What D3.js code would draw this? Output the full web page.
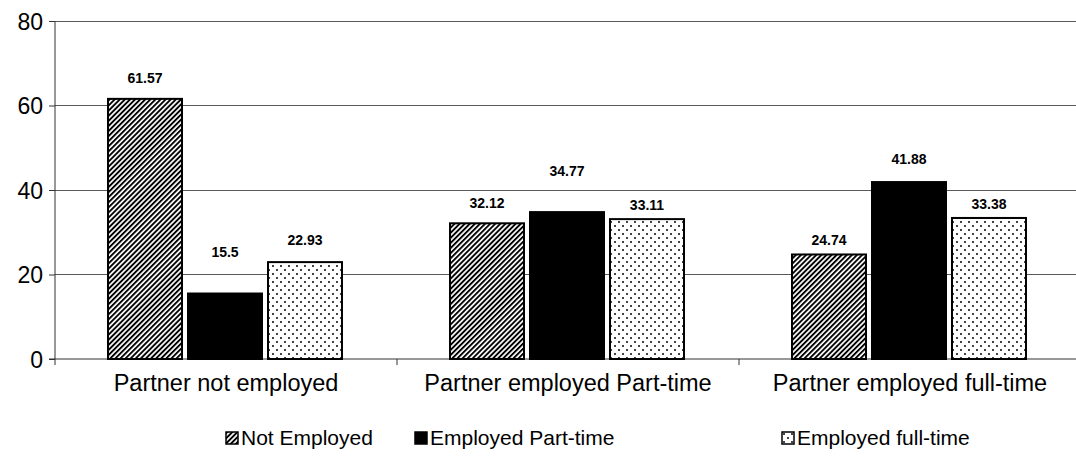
<!DOCTYPE html>
<html>
<head>
<meta charset="utf-8">
<script src="https://cdn.jsdelivr.net/npm/d3@7"></script>
<style>
  body { margin: 0; background: #fff; }
  svg { display: block; font-family: "Liberation Sans", Arial, sans-serif; }
</style>
</head>
<body>
<svg id="chart" width="1076" height="472"></svg>
<script>
const categories = ["Partner not employed", "Partner employed Part-time", "Partner employed full-time"];
const series = ["Not Employed", "Employed Part-time", "Employed full-time"];
const notEmployed = [61.57, 32.12, 24.74];
const employedPartTime = [15.5, 34.77, 41.88];
const employedFullTime = [22.93, 33.11, 33.38];
const yTicks = [0, 20, 40, 60, 80];

// pixel gap between bar top and label centre (Excel placed them unevenly)
const labelGap = [
  [21, 41, 22],
  [20, 41, 14],
  [14, 23, 14]
];

const values = [notEmployed, employedPartTime, employedFullTime];
const rows = categories.map((c, i) => ({
  category: c,
  bars: series.map((s, j) => ({ series: s, value: values[j][i], gap: labelGap[i][j] }))
}));

const svg = d3.select("#chart");
const plotLeft = 55, plotTop = 21, plotBottom = 359;

const x0 = d3.scaleBand().domain(categories).range([plotLeft, plotLeft + 342 * 3]);
const x1 = d3.scaleBand().domain(series).range([53, 287]).paddingInner(0.075);
const y = d3.scaleLinear().domain([0, 80]).range([plotBottom, plotTop]);

const defs = svg.append("defs");
const stripes = defs.append("pattern")
  .attr("id", "stripes")
  .attr("patternUnits", "userSpaceOnUse")
  .attr("width", 3.6).attr("height", 10)
  .attr("patternTransform", "rotate(45)");
stripes.append("rect").attr("width", 3.6).attr("height", 10).attr("fill", "#fff");
stripes.append("rect").attr("width", 1.9).attr("height", 10).attr("fill", "#000");

const dots = defs.append("pattern")
  .attr("id", "dots")
  .attr("patternUnits", "userSpaceOnUse")
  .attr("width", 8).attr("height", 8);
dots.append("rect").attr("width", 8).attr("height", 8).attr("fill", "#fff");
dots.append("rect").attr("x", 1).attr("y", 1).attr("width", 2).attr("height", 2).attr("fill", "#444");
dots.append("rect").attr("x", 5).attr("y", 5).attr("width", 2).attr("height", 2).attr("fill", "#444");

const fills = d3.scaleOrdinal().domain(series).range(["url(#stripes)", "#000", "url(#dots)"]);

// gridlines
svg.append("g")
  .selectAll("line")
  .data(yTicks.filter(d => d > 0))
  .join("line")
  .attr("x1", plotLeft).attr("x2", 1076)
  .attr("y1", d => y(d)).attr("y2", d => y(d))
  .attr("stroke", "#5a5a5a")
  .attr("stroke-width", 1)
  .attr("shape-rendering", "crispEdges");

// y axis
const yAxis = svg.append("g")
  .attr("transform", `translate(${plotLeft},0)`)
  .call(d3.axisLeft(y).tickValues(yTicks).tickSize(6).tickPadding(6));
yAxis.select(".domain").attr("d", `M0,${plotTop}V${plotBottom + 6}`).attr("stroke", "#333");
yAxis.selectAll(".tick line").attr("stroke", "#333");
yAxis.selectAll("text").attr("font-size", 23).attr("fill", "#000").attr("dy", "0.35em");

// x axis
const xAxis = svg.append("g")
  .attr("transform", `translate(0,${plotBottom})`);
xAxis.append("line")
  .attr("x1", plotLeft - 6).attr("x2", 1076)
  .attr("stroke", "#333");
xAxis.selectAll(".sep")
  .data(categories.slice(1))
  .join("line")
  .attr("class", "sep")
  .attr("x1", d => x0(d)).attr("x2", d => x0(d))
  .attr("y1", 0).attr("y2", 6)
  .attr("stroke", "#333");
xAxis.selectAll(".cat")
  .data(categories)
  .join("text")
  .attr("class", "cat")
  .attr("x", d => x0(d) + x0.bandwidth() / 2)
  .attr("y", 32)
  .attr("text-anchor", "middle")
  .attr("font-size", 23.5)
  .text(d => d);

// bars
const groups = svg.append("g")
  .selectAll("g")
  .data(rows)
  .join("g")
  .attr("transform", d => `translate(${x0(d.category)},0)`);

groups.selectAll("rect")
  .data(d => d.bars)
  .join("rect")
  .attr("x", d => x1(d.series))
  .attr("y", d => y(d.value))
  .attr("width", x1.bandwidth())
  .attr("height", d => y(0) - y(d.value))
  .attr("fill", d => fills(d.series))
  .attr("stroke", "#000")
  .attr("stroke-width", 2);

groups.selectAll("text")
  .data(d => d.bars)
  .join("text")
  .attr("x", d => x1(d.series) + x1.bandwidth() / 2)
  .attr("y", d => y(d.value) - d.gap)
  .attr("dy", "0.35em")
  .attr("text-anchor", "middle")
  .attr("font-size", 14)
  .attr("font-weight", "bold")
  .text(d => d.value);

// legend
const legendX = [226, 415, 782];
const legend = svg.append("g")
  .selectAll("g")
  .data(series)
  .join("g")
  .attr("transform", (d, i) => `translate(${legendX[i]},432)`);
legend.append("rect")
  .attr("width", 12).attr("height", 12)
  .attr("fill", d => fills(d))
  .attr("stroke", "#000")
  .attr("stroke-width", 1.5);
legend.append("text")
  .attr("x", 15)
  .attr("y", 6)
  .attr("dy", "0.35em")
  .attr("font-size", 21)
  .text(d => d);
</script>
</body>
</html>
